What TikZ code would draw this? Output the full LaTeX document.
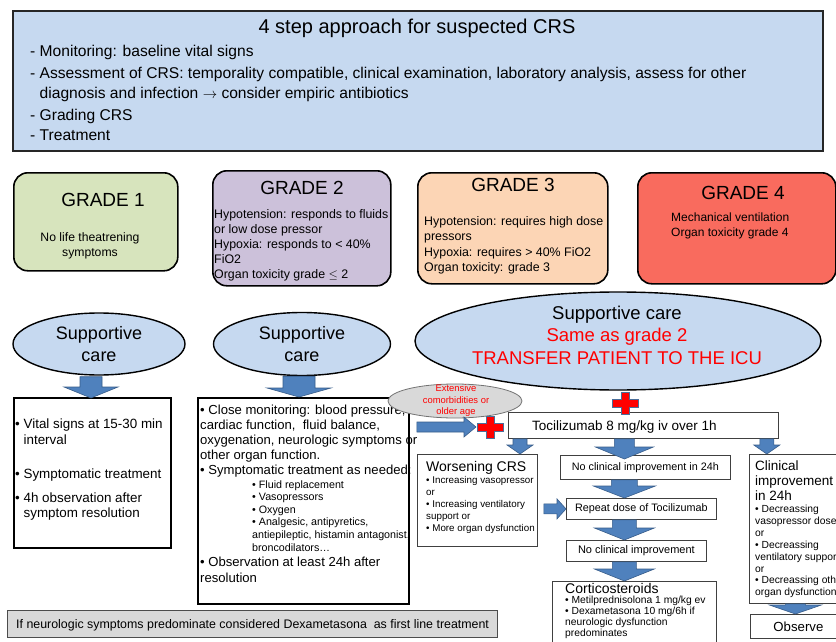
\documentclass[tikz,border=0pt]{standalone}
\usepackage{fontspec}
\setmainfont{Liberation Sans}
\usetikzlibrary{calc,shapes.geometric}

\definecolor{topblue}{HTML}{C6D9F0}
\definecolor{ellblue}{HTML}{C6D9F0}
\definecolor{gone}{HTML}{D7E4BD}
\definecolor{gtwo}{HTML}{CCC1DA}
\definecolor{gthree}{HTML}{FCD5B5}
\definecolor{gfour}{HTML}{F96B5E}
\definecolor{arrblue}{HTML}{4F81BD}
\definecolor{arrline}{HTML}{385D8A}
\definecolor{crossline}{HTML}{4A6E9A}
\definecolor{grayfill}{HTML}{D9D9D9}

\newcommand\fs[2]{\fontsize{#1}{#2}\selectfont}

% vertical block arrow: #1 top point, #2 bottom point, #3 shaft half width, #4 head half width, #5 head length
\newcommand\downblock[5]{%
  \draw[blockarrow] let \p1=#1, \p2=#2 in
   (\x1-#3,\y1) -- (\x1+#3,\y1) -- (\x1+#3,\y2+#5) -- (\x1+#4,\y2+#5) -- (\x1,\y2)
   -- (\x1-#4,\y2+#5) -- (\x1-#3,\y2+#5) -- cycle;}
% horizontal block arrow: #1 left point, #2 right point
\newcommand\rightblock[5]{%
  \draw[blockarrow] let \p1=#1, \p2=#2 in
   (\x1,\y1+#3) -- (\x2-#5,\y1+#3) -- (\x2-#5,\y1+#4) -- (\x2,\y1) -- (\x2-#5,\y1-#4)
   -- (\x2-#5,\y1-#3) -- (\x1,\y1-#3) -- cycle;}

% note: multi-line text nodes are anchored at the baseline of their LAST line
\tikzset{
  txt/.style={inner sep=0pt, align=left, anchor=base west},
  gradebox/.style={draw=black, line width=1.6pt, rounded corners=14pt, anchor=north west, inner sep=0pt},
  ell/.style={ellipse, draw=black, line width=1.4pt, fill=ellblue, inner sep=0pt},
  plainbox/.style={draw=black!75, line width=0.8pt, fill=white, anchor=north west, inner sep=0pt},
  thickbox/.style={draw=black, line width=1.8pt, fill=white, anchor=north west, inner sep=0pt},
  blockarrow/.style={fill=arrblue, draw=arrline, line width=0.6pt},
  redcross/.pic={\draw[crossline, fill=red, line width=1pt]
     (-4,-11)--(4,-11)--(4,-4)--(13,-4)--(13,4)--(4,4)--(4,11)--(-4,11)--(-4,4)--(-13,4)--(-13,-4)--(-4,-4)--cycle;}
}

\begin{document}
\begin{tikzpicture}[x=1pt,y=-1pt]
\useasboundingbox (0,0) rectangle (836,642);
\fill[white] (0,0) rectangle (836,642);

% ---------- top box ----------
\node[draw=black!85, line width=1.8pt, fill=topblue, anchor=north west, minimum width=810pt, minimum height=140pt, inner sep=0pt] (topbox) at (12,10) {};
\node[font=\fs{20}{24}, inner sep=0pt] (title) at (417,28.5) {4 step approach for suspected CRS};
\node[txt, font=\fs{15.6}{19.5}] (steps) at (30,140) {- Monitoring: baseline vital signs\\[2.5pt]
- Assessment of CRS: temporality compatible, clinical examination, laboratory analysis, assess for other\\
\hphantom{- }diagnosis and infection $\rightarrow$ consider empiric antibiotics\\[2.5pt]
- Grading CRS\\[0.5pt]
- Treatment};

% ---------- grade boxes ----------
\node[gradebox, fill=gone, minimum width=164pt, minimum height=98pt] (g1) at (13,172) {};
\node[font=\fs{19}{22}, inner sep=0pt] (g1t) at (103,200) {GRADE 1};
\node[font=\fs{12.2}{15}, inner sep=0pt, align=center, anchor=base] (g1b) at (90,256.5) {No life theatrening\\symptoms};

\node[gradebox, fill=gtwo, minimum width=178pt, minimum height=115pt] (g2) at (212,170) {};
\node[font=\fs{19}{22}, inner sep=0pt] (g2t) at (302,188) {GRADE 2};
\node[txt, font=\fs{12.4}{15}] (g2b) at (214,278.5) {Hypotension: responds to fluids\\or low dose pressor\\Hypoxia: responds to < 40\%\\FiO2\\Organ toxicity grade $\le$ 2};

\node[gradebox, fill=gthree, minimum width=190pt, minimum height=111pt] (g3) at (417,172) {};
\node[font=\fs{19}{22}, inner sep=0pt] (g3t) at (513,185) {GRADE 3};
\node[txt, font=\fs{12.4}{15.3}] (g3b) at (424,271.4) {Hypotension: requires high dose\\pressors\\Hypoxia: requires > 40\% FiO2\\Organ toxicity: grade 3};

\node[gradebox, fill=gfour, minimum width=198pt, minimum height=111pt] (g4) at (637,172) {};
\node[font=\fs{19}{22}, inner sep=0pt] (g4t) at (743,193) {GRADE 4};
\node[txt, font=\fs{12}{14.5}] (g4b) at (671,236) {Mechanical ventilation\\Organ toxicity grade 4};

% ---------- supportive care ellipses ----------
\node[ell, minimum width=172pt, minimum height=62pt, font=\fs{18}{22}, align=center] (e1) at (99,344) {Supportive\\care};
\node[ell, minimum width=177pt, minimum height=63pt, font=\fs{18}{22}, align=center] (e2) at (302,344) {Supportive\\care};
\node[ell, minimum width=406pt, minimum height=98pt] (e3) at (618,341) {};
\node[font=\fs{18.5}{22.5}, align=center, inner sep=0pt] (e3t) at (617,335) {Supportive care\\\textcolor{red}{Same as grade 2}\\\textcolor{red}{TRANSFER PATIENT TO THE ICU}};

% ---------- grade 1 box ----------
\node[thickbox, minimum width=157pt, minimum height=150pt] (b1) at (13,397) {};
\node[txt, font=\fs{13.4}{15.5}] (b1t) at (15,517.5) {• Vital signs at 15-30 min\\\hphantom{• }interval\\[18.5pt]• Symptomatic treatment\\[8.5pt]• 4h observation after\\\hphantom{• }symptom resolution};

% ---------- grade 2 box ----------
\node[thickbox, minimum width=211pt, minimum height=206pt] (b2) at (197,397) {};
\node[txt, font=\fs{13.1}{15}] (b2t) at (200,474.5) {• Close monitoring: blood pressure,\\cardiac function,\ \ fluid balance,\\oxygenation, neurologic symptoms or\\other organ function.\\• Symptomatic treatment as needed:};
\node[txt, font=\fs{10.7}{12.6}] (b2s) at (252,551) {• Fluid replacement\\• Vasopressors\\• Oxygen\\• Analgesic, antipyretics,\\antiepileptic, histamin antagonist,\\broncodilators…};
\node[txt, font=\fs{13.1}{15.5}] (b2o) at (200,582) {• Observation at least 24h after\\resolution};

% ---------- bottom note ----------
\node[draw=black!70, line width=1pt, fill=grayfill, anchor=north west, minimum width=490pt, minimum height=27pt, inner sep=0pt] (note) at (7,610) {};
\node[txt, font=\fs{12.4}{15}] (notet) at (16,628) {If neurologic symptoms predominate considered Dexametasona\ \ as first line treatment};

% ---------- grade 3/4 pathway ----------
\node[ellipse, draw=black!55, line width=0.8pt, fill=grayfill, minimum width=134pt, minimum height=34pt, inner sep=0pt] (ext) at (455,401) {};
\node[font=\fs{9.4}{11.5}, text=red, align=center, inner sep=0pt] (extt) at (456,401) {Extensive\\comorbidities or\\older age};

\node[plainbox, minimum width=270pt, minimum height=26pt] (toci) at (508,412) {};
\node[txt, font=\fs{13.5}{16}] (tocit) at (532,430) {Tocilizumab 8 mg/kg iv over 1h};

\node[plainbox, minimum width=120pt, minimum height=92pt] (wors) at (417,454) {};
\node[txt, font=\fs{14}{16}] (worst) at (426,471) {Worsening CRS};
\node[txt, font=\fs{9.8}{12}] (worsl) at (426,531) {• Increasing vasopressor\\or\\• Increasing ventilatory\\support or\\• More organ dysfunction};

\node[plainbox, minimum width=170pt, minimum height=24pt, font=\fs{10.8}{13}] (n1) at (560,455) {No clinical improvement in 24h};
\node[plainbox, minimum width=150pt, minimum height=21pt, font=\fs{10.8}{13}] (rep) at (566,498) {Repeat dose of Tocilizumab};
\node[plainbox, minimum width=140pt, minimum height=21pt, font=\fs{11}{13}] (n2) at (566,540) {No clinical improvement};

\node[plainbox, minimum width=164pt, minimum height=70pt] (cort) at (552,581) {};
\node[txt, font=\fs{14}{16}] (cortt) at (565,593) {Corticosteroids};
\node[txt, font=\fs{10.3}{11}] (cortl) at (565,636.5) {• Metilprednisolona 1 mg/kg ev\\• Dexametasona 10 mg/6h if\\neurologic dysfunction\\predominates};

\node[plainbox, minimum width=96pt, minimum height=149pt] (clin) at (749,454) {};
\node[txt, font=\fs{13.5}{15}] (clint) at (755,500) {Clinical\\improvement\\in 24h};
\node[txt, font=\fs{10.3}{11.9}] (clinl) at (755,595.8) {• Decreassing\\vasopressor dose\\or\\• Decreassing\\ventilatory support\\or\\• Decreassing other\\organ dysfunction};
\node[plainbox, minimum width=96pt, minimum height=24pt, font=\fs{13.2}{15}] (obs) at (750,614) {Observe};

% ---------- crosses ----------
\coordinate (crossA) at (490,427);
\coordinate (crossB) at ($(toci.north)+(-18,-9)$);
\pic at (crossA) {redcross};
\pic at (crossB) {redcross};

% ---------- block arrows ----------
\downblock{($(e1.south)+(-8,1)$)}{($(b1.north)+(0,1)$)}{11pt}{27pt}{11pt}
\downblock{($(e2.south)+(-3,0)$)}{(b2.north)}{16pt}{32pt}{9pt}
\rightblock{($(b2.north east)+(7,30)$)}{($(crossA)+(-14,0)$)}{5pt}{10pt}{12pt}
\downblock{($(toci.south west)+(12,0)$)}{(wors.north)}{7pt}{13pt}{9pt}
\downblock{($(toci.south)+(-19,0)$)}{($(n1.north)+(0,4)$)}{10pt}{29pt}{12pt}
\downblock{($(toci.south east)+(-12,0)$)}{(clin.north)}{7pt}{13pt}{9pt}
\downblock{($(n1.south)+(-21,0)$)}{(rep.north)}{13pt}{31pt}{12pt}
\rightblock{($(wors.east |- rep.west)+(6,0)$)}{(rep.west)}{5pt}{10pt}{9pt}
\downblock{($(rep.south)+(-17,0)$)}{(n2.north)}{12pt}{30pt}{12pt}
\downblock{($(n2.south)+(-12,0)$)}{(cort.north)}{12pt}{30pt}{12pt}
\downblock{($(clin.south)+(-2,0)$)}{(obs.north)}{10pt}{26pt}{9pt}
\end{tikzpicture}
\end{document}
